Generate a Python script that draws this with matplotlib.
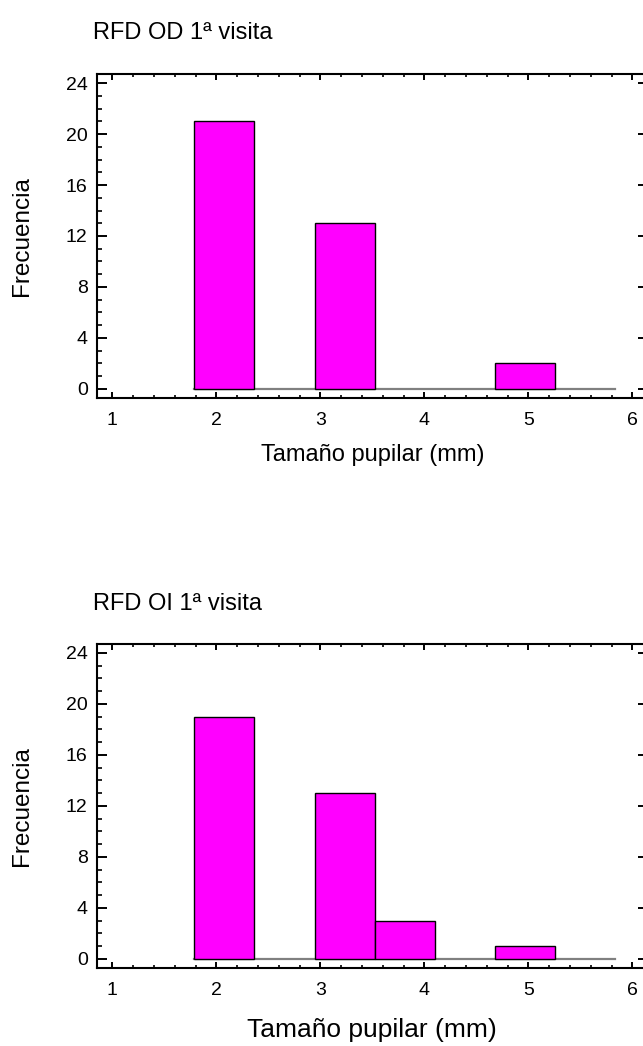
import numpy as np
import matplotlib
matplotlib.use("Agg")
import matplotlib.pyplot as plt
from matplotlib.ticker import MultipleLocator

plt.rcParams['font.family'] = ['Liberation Sans', 'DejaVu Sans']

# bin edges (mm) and counts
bordes = [1.79, 2.367, 2.944, 3.521, 4.098, 4.675, 5.252, 5.829]
frec_od = [21, 0, 13, 0, 0, 2, 0]
frec_oi = [19, 0, 13, 3, 0, 1, 0]

titulos = ["RFD OD 1ª visita", "RFD OI 1ª visita"]
xticks = [1, 2, 3, 4, 5, 6]
yticks = [0, 4, 8, 12, 16, 20, 24]


def histograma(ax, frec, xlab_size):
    b = np.array(bordes)
    f = np.array(frec)
    anchos = np.diff(b)
    # gray baseline under the bars
    ax.plot([b[0], b[-1]], [0, 0], color='#808080', lw=1.6, zorder=1)
    m = f > 0
    ax.bar(b[:-1][m], f[m], width=anchos[m], align='edge',
           color='#ff00ff', edgecolor='black', linewidth=1.0, zorder=2)

    ax.set_xlim(0.85, 6.15)
    ax.set_ylim(-0.7, 24.7)
    ax.set_xticks(xticks)
    ax.set_yticks(yticks)
    ax.xaxis.set_minor_locator(MultipleLocator(0.2))
    ax.yaxis.set_minor_locator(MultipleLocator(1))
    ax.tick_params(axis='x', which='major', direction='in', length=4.5, width=1.4,
                   top=True, labelsize=14, pad=10.5)
    ax.tick_params(axis='x', which='minor', direction='in', length=2.2, width=1.2, top=True)
    ax.tick_params(axis='y', which='major', direction='in', length=7.5, width=1.4,
                   right=True, labelsize=14, pad=6.5)
    ax.tick_params(axis='y', which='minor', direction='in', length=3.5, width=1.2, right=True)
    for s in ax.spines.values():
        s.set_linewidth(1.5)
    ax.set_xlabel("Tamaño pupilar (mm)", fontsize=xlab_size)


fig = plt.figure(figsize=(6.43, 10.46), dpi=100)
W, H = 643.0, 1046.0

# axes boxes in pixels: left, top, right, bottom
cajas = [(96.7, 74.3, 648.0, 397.7), (96.7, 644.0, 648.0, 967.7)]
datos = [frec_od, frec_oi]
tit_y = [33, 604]
xlab_y = [455, 1030]
xlab_sz = [17, 19]

for i in range(2):
    l, t, r, bt = cajas[i]
    ax = fig.add_axes([l / W, 1 - bt / H, (r - l) / W, (bt - t) / H])
    histograma(ax, datos[i], xlab_sz[i])
    ax.xaxis.set_label_coords(0.5, 1 - (xlab_y[i] - t) / (bt - t))
    ax.xaxis.label.set_va('center')
    fig.text(93 / W, 1 - tit_y[i] / H, titulos[i], fontsize=17, va='center', ha='left')
    fig.text(22 / W, 1 - (t + bt) / 2 / H, "Frecuencia", fontsize=17.5,
             rotation=90, va='center', ha='center')

plt.savefig('out.png', dpi=100)
